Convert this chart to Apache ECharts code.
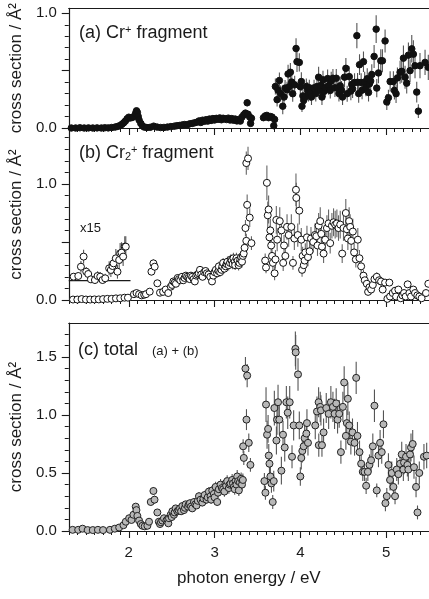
<!DOCTYPE html>
<html><head><meta charset="utf-8">
<script src="https://cdn.jsdelivr.net/npm/echarts/dist/echarts.min.js"></script>
<style>html,body{margin:0;padding:0;background:#fff}#c{width:429px;height:599px}</style>
</head><body><div id="c"></div>
<script>
// ---------- data: [photon energy (eV), cross section (Å²), error] ----------
const crPlus = [
[1.33,0.000,0.005],[1.38,0.000,0.005],[1.43,0.002,0.005],[1.48,0.000,0.005],[1.53,0.001,0.005],[1.58,0.000,0.005],[1.63,0.001,0.005],[1.68,0.000,0.005],[1.72,0.002,0.005],[1.76,0.001,0.005],[1.80,0.004,0.005],[1.84,0.008,0.006],[1.87,0.014,0.006],[1.90,0.022,0.007],[1.92,0.032,0.008],[1.94,0.045,0.008],[1.96,0.060,0.010],[1.98,0.080,0.012],[2.00,0.094,0.012],[2.02,0.088,0.012],[2.04,0.092,0.012],[2.06,0.100,0.012],[2.08,0.128,0.014],[2.09,0.150,0.015],[2.10,0.135,0.014],[2.11,0.100,0.012],[2.12,0.070,0.010],[2.14,0.040,0.008],[2.16,0.018,0.006],[2.18,0.008,0.005],[2.21,0.004,0.005],[2.25,0.006,0.005],[2.29,0.016,0.006],[2.33,0.008,0.005],[2.37,0.004,0.005],[2.41,0.005,0.005],[2.45,0.008,0.005],[2.49,0.012,0.006],[2.53,0.016,0.006],[2.56,0.020,0.007],[2.59,0.022,0.007],[2.62,0.026,0.008],[2.65,0.030,0.008],[2.68,0.028,0.008],[2.71,0.036,0.009],[2.74,0.040,0.010],[2.77,0.046,0.010],[2.80,0.052,0.012],[2.82,0.062,0.014],[2.84,0.048,0.012],[2.86,0.068,0.015],[2.88,0.058,0.014],[2.90,0.072,0.016],[2.92,0.060,0.015],[2.94,0.078,0.016],[2.96,0.066,0.016],[2.98,0.082,0.018],[3.00,0.070,0.016],[3.02,0.084,0.018],[3.04,0.076,0.018],[3.06,0.088,0.020],[3.08,0.072,0.018],[3.10,0.085,0.020],[3.12,0.080,0.020],[3.14,0.074,0.018],[3.16,0.086,0.020],[3.18,0.070,0.018],[3.20,0.082,0.020],[3.22,0.068,0.018],[3.24,0.078,0.020],[3.26,0.062,0.018],[3.28,0.074,0.020],[3.30,0.060,0.018],[3.32,0.095,0.022],[3.34,0.115,0.025],[3.36,0.130,0.025],[3.38,0.220,0.030],[3.39,0.120,0.025],[3.41,0.095,0.022],[3.42,0.040,0.018],[3.43,0.085,0.022],
[3.57,0.090,0.025],[3.59,0.105,0.025],[3.61,0.110,0.025],[3.63,0.090,0.025],[3.65,0.100,0.025],[3.67,0.095,0.025],[3.69,0.020,0.020],[3.70,0.075,0.025],
[3.709,0.362,0.07],[3.729,0.247,0.06],[3.74,0.330,0.07],[3.756,0.414,0.07],[3.77,0.300,0.07],[3.795,0.190,0.07],[3.81,0.270,0.07],[3.822,0.348,0.07],[3.845,0.333,0.07],[3.857,0.471,0.08],[3.87,0.360,0.07],[3.884,0.486,0.08],[3.90,0.400,0.08],[3.911,0.299,0.07],[3.934,0.376,0.08],[3.950,0.693,0.09],[3.961,0.578,0.09],[3.988,0.572,0.08],[4.00,0.360,0.07],[4.012,0.405,0.08],[4.019,0.190,0.05],[4.03,0.280,0.06],[4.039,0.241,0.06],[4.058,0.270,0.06],[4.070,0.362,0.07],[4.085,0.328,0.07],[4.095,0.300,0.07],[4.105,0.351,0.07],[4.116,0.305,0.07],[4.13,0.270,0.07],[4.16,0.350,0.07],[4.18,0.300,0.07],[4.194,0.362,0.08],[4.213,0.443,0.09],[4.233,0.328,0.07],[4.24,0.370,0.08],[4.252,0.270,0.07],[4.264,0.420,0.08],[4.28,0.320,0.07],[4.291,0.351,0.08],[4.318,0.431,0.08],[4.33,0.370,0.08],[4.349,0.328,0.07],[4.36,0.410,0.08],[4.380,0.434,0.08],[4.403,0.351,0.08],[4.419,0.434,0.08],[4.438,0.348,0.08],[4.45,0.300,0.07],[4.465,0.368,0.08],[4.48,0.330,0.08],[4.492,0.270,0.07],[4.515,0.443,0.09],[4.531,0.520,0.09],[4.546,0.299,0.07],[4.570,0.448,0.09],[4.589,0.322,0.08],[4.60,0.380,0.08],[4.609,0.342,0.08],[4.632,0.397,0.08],[4.659,0.805,0.11],[4.667,0.399,0.08],[4.68,0.300,0.08],[4.690,0.552,0.09],[4.709,0.397,0.08],[4.72,0.330,0.08],[4.736,0.578,0.09],[4.75,0.400,0.09],[4.764,0.356,0.08],[4.78,0.430,0.09],[4.795,0.310,0.08],[4.806,0.385,0.08],[4.82,0.410,0.09],[4.833,0.466,0.09],[4.860,0.624,0.10],[4.884,0.862,0.12],[4.891,0.348,0.08],[4.911,0.480,0.09],[4.938,0.586,0.10],[4.957,0.586,0.10],[4.988,0.759,0.10],[5.008,0.227,0.07],[5.027,0.264,0.07],[5.047,0.405,0.09],[5.085,0.405,0.09],[5.097,0.328,0.08],[5.116,0.299,0.08],[5.132,0.437,0.09],[5.163,0.486,0.10],[5.182,0.494,0.10],[5.202,0.609,0.11],[5.221,0.443,0.10],[5.240,0.391,0.09],[5.260,0.635,0.11],[5.279,0.500,0.10],[5.299,0.690,0.12],[5.318,0.644,0.12],[5.337,0.543,0.11],[5.357,0.313,0.09],[5.376,0.147,0.06],[5.395,0.543,0.11],[5.454,0.572,0.11],[5.492,0.529,0.11]
];
const cr2Plus = [
[1.35,0.004,0.004],[1.40,0.004,0.004],[1.45,0.008,0.004],[1.50,0.004,0.004],[1.55,0.004,0.004],[1.60,0.005,0.004],[1.65,0.005,0.004],[1.70,0.008,0.005],[1.75,0.010,0.005],[1.80,0.010,0.005],[1.85,0.014,0.005],[1.90,0.015,0.006],[1.95,0.020,0.006],[1.99,0.020,0.006],
[2.06,0.050,0.010],[2.09,0.060,0.010],[2.12,0.050,0.010],[2.15,0.040,0.010],[2.18,0.045,0.010],[2.20,0.050,0.010],[2.244,0.072,0.012],[2.264,0.244,0.030],[2.287,0.316,0.035],[2.302,0.287,0.035],[2.333,0.144,0.020],[2.364,0.063,0.012],[2.40,0.070,0.012],[2.43,0.090,0.015],[2.46,0.060,0.012],[2.49,0.115,0.018],[2.505,0.130,0.018],[2.52,0.160,0.020],[2.535,0.150,0.020],[2.55,0.140,0.020],[2.57,0.190,0.025],[2.585,0.180,0.025],[2.60,0.170,0.025],[2.62,0.200,0.025],[2.635,0.170,0.025],[2.65,0.190,0.025],[2.665,0.210,0.025],[2.68,0.200,0.028],[2.695,0.190,0.028],[2.71,0.180,0.025],[2.725,0.210,0.028],[2.74,0.200,0.028],[2.755,0.180,0.025],[2.77,0.160,0.025],[2.785,0.210,0.030],[2.80,0.220,0.030],[2.815,0.230,0.030],[2.83,0.260,0.032],[2.845,0.220,0.030],[2.86,0.200,0.030],[2.88,0.240,0.032],[2.895,0.250,0.032],[2.91,0.230,0.032],[2.93,0.220,0.030],[2.95,0.200,0.030],[2.97,0.160,0.028],[2.985,0.210,0.032],[3.00,0.240,0.035],[3.015,0.260,0.035],[3.03,0.230,0.035],[3.045,0.250,0.038],[3.05,0.290,0.040],[3.065,0.240,0.038],[3.08,0.260,0.038],[3.09,0.290,0.040],[3.10,0.320,0.042],[3.115,0.270,0.040],[3.13,0.290,0.040],[3.14,0.310,0.042],[3.15,0.330,0.045],[3.165,0.300,0.045],[3.18,0.320,0.045],[3.19,0.350,0.045],[3.20,0.340,0.045],[3.21,0.310,0.045],[3.22,0.360,0.048],[3.235,0.330,0.048],[3.24,0.300,0.042],[3.255,0.360,0.048],[3.27,0.340,0.048],[3.28,0.300,0.045],[3.29,0.320,0.045],[3.30,0.350,0.050],[3.31,0.370,0.050],[3.32,0.330,0.050],[3.33,0.380,0.050],[3.34,0.400,0.055],[3.35,0.450,0.060],[3.36,0.620,0.070],[3.37,0.510,0.060],[3.38,0.820,0.090],[3.37,1.180,0.100],[3.39,1.220,0.100],[3.41,0.710,0.080],[3.43,0.490,0.060],
[3.59,0.34,0.06],[3.60,0.28,0.05],[3.61,1.01,0.15],[3.62,0.73,0.12],[3.63,0.78,0.12],[3.64,0.54,0.10],[3.65,0.60,0.10],[3.66,0.47,0.09],[3.67,0.38,0.08],[3.68,0.32,0.07],[3.70,0.23,0.06],[3.71,0.35,0.08],[3.72,0.69,0.12],[3.73,0.52,0.10],[3.76,0.68,0.12],[3.78,0.60,0.11],[3.80,0.32,0.07],[3.81,0.47,0.09],[3.825,0.38,0.08],[3.845,0.63,0.11],[3.864,0.56,0.10],[3.895,0.63,0.11],[3.914,0.32,0.06],[3.93,0.53,0.10],[3.949,0.95,0.14],[3.953,0.88,0.13],[3.97,0.56,0.10],[3.988,0.77,0.12],[4.011,0.52,0.10],[4.02,0.26,0.06],[4.027,0.38,0.08],[4.04,0.30,0.07],[4.05,0.34,0.07],[4.058,0.41,0.08],[4.077,0.54,0.10],[4.089,0.37,0.08],[4.108,0.42,0.08],[4.124,0.53,0.10],[4.15,0.50,0.09],[4.17,0.56,0.10],[4.186,0.55,0.10],[4.20,0.47,0.09],[4.213,0.64,0.11],[4.232,0.68,0.12],[4.244,0.57,0.10],[4.252,0.46,0.09],[4.271,0.40,0.08],[4.29,0.52,0.10],[4.31,0.62,0.11],[4.329,0.66,0.12],[4.348,0.49,0.09],[4.368,0.64,0.11],[4.387,0.67,0.12],[4.406,0.65,0.12],[4.426,0.66,0.12],[4.445,0.62,0.11],[4.465,0.65,0.12],[4.488,0.40,0.08],[4.503,0.62,0.11],[4.53,0.75,0.12],[4.542,0.61,0.11],[4.554,0.53,0.10],[4.569,0.68,0.12],[4.581,0.63,0.11],[4.593,0.51,0.10],[4.612,0.59,0.11],[4.627,0.41,0.08],[4.647,0.35,0.07],[4.67,0.52,0.10],[4.689,0.36,0.07],[4.709,0.29,0.06],[4.736,0.21,0.05],[4.751,0.17,0.04],[4.775,0.14,0.04],[4.79,0.07,0.03],[4.806,0.11,0.03],[4.825,0.09,0.03],[4.845,0.13,0.03],[4.864,0.18,0.04],[4.891,0.20,0.04],[4.918,0.17,0.04],[4.941,0.16,0.04],[4.96,0.09,0.03],[4.988,0.15,0.03],[5.015,0.01,0.02],[5.038,0.15,0.03],[5.046,0.03,0.02],[5.077,0.06,0.02],[5.104,0.08,0.02],[5.116,0.03,0.02],[5.143,0.09,0.02],[5.17,0.015,0.02],[5.19,0.04,0.02],[5.209,0.06,0.02],[5.228,0.03,0.02],[5.251,0.135,0.03],[5.271,0.06,0.02],[5.29,0.03,0.02],[5.317,0.09,0.02],[5.337,0.06,0.02],[5.364,0.04,0.02],[5.387,0.03,0.02],[5.414,0.015,0.02],[5.465,0.06,0.02],[5.492,0.14,0.03]
];
// x15 magnified low-energy Cr2+ data (plotted on offset baseline)
const cr2PlusX15 = [
[1.357,0.201,0.03],[1.411,0.207,0.03],[1.442,0.287,0.05],[1.473,0.374,0.06],[1.504,0.244,0.04],[1.527,0.224,0.04],[1.558,0.178,0.03],[1.605,0.172,0.03],[1.636,0.207,0.04],[1.667,0.201,0.04],[1.694,0.172,0.03],[1.725,0.187,0.04],[1.771,0.273,0.06],[1.791,0.259,0.06],[1.810,0.293,0.07],[1.822,0.316,0.07],[1.849,0.359,0.08],[1.868,0.244,0.06],[1.888,0.345,0.08],[1.899,0.402,0.09],[1.915,0.408,0.09],[1.934,0.374,0.08],[1.953,0.460,0.09],[1.965,0.460,0.09]
];
const x15Baseline = [[1.3,0.167],[2.02,0.167]];
const total = [
[1.345,0.010,0.006],[1.41,0.010,0.006],[1.461,0.020,0.006],[1.52,0.008,0.006],[1.58,0.008,0.006],[1.64,0.010,0.006],[1.70,0.008,0.006],[1.78,0.010,0.006],[1.837,0.020,0.007],[1.888,0.030,0.008],[1.938,0.050,0.010],[1.965,0.080,0.012],[2.004,0.110,0.014],[2.031,0.095,0.014],[2.054,0.140,0.016],[2.081,0.210,0.020],[2.089,0.180,0.018],[2.100,0.130,0.016],[2.120,0.090,0.014],[2.140,0.060,0.012],[2.159,0.045,0.010],[2.186,0.040,0.010],[2.217,0.045,0.010],[2.236,0.080,0.012],[2.256,0.250,0.030],[2.287,0.345,0.035],[2.300,0.270,0.035],[2.333,0.160,0.020],[2.350,0.080,0.012],
[2.364,0.060,0.012],[2.375,0.075,0.012],[2.391,0.090,0.015],[2.410,0.110,0.016],[2.438,0.090,0.015],[2.45,0.100,0.015],[2.461,0.066,0.014],[2.469,0.110,0.016],[2.488,0.140,0.018],[2.50,0.120,0.018],[2.508,0.170,0.020],[2.527,0.140,0.020],[2.535,0.160,0.020],[2.546,0.195,0.022],[2.566,0.170,0.022],[2.58,0.180,0.022],[2.597,0.195,0.025],[2.61,0.170,0.022],[2.624,0.215,0.025],[2.643,0.180,0.025],[2.655,0.200,0.025],[2.663,0.230,0.028],[2.690,0.210,0.028],[2.70,0.230,0.028],[2.713,0.240,0.030],[2.725,0.210,0.028],[2.740,0.195,0.028],[2.760,0.250,0.030],[2.775,0.230,0.030],[2.790,0.220,0.030],[2.805,0.260,0.032],[2.818,0.300,0.035],[2.837,0.270,0.035],[2.857,0.245,0.032],[2.87,0.280,0.035],[2.884,0.310,0.038],[2.907,0.270,0.035],[2.92,0.290,0.035],[2.934,0.340,0.040],[2.953,0.300,0.038],[2.96,0.270,0.035],[2.973,0.350,0.040],[2.992,0.320,0.040],[3.00,0.290,0.040],[3.012,0.380,0.045],[3.031,0.250,0.035],[3.04,0.330,0.042],[3.050,0.360,0.045],[3.070,0.400,0.048],[3.085,0.370,0.045],[3.100,0.360,0.045],[3.115,0.340,0.045],[3.128,0.410,0.050],[3.135,0.390,0.048],[3.147,0.430,0.050],[3.167,0.370,0.048],[3.175,0.400,0.050],[3.186,0.410,0.050],[3.205,0.440,0.052],[3.215,0.410,0.050],[3.225,0.380,0.050],[3.235,0.360,0.048],[3.244,0.430,0.052],[3.255,0.400,0.050],[3.264,0.470,0.055],[3.275,0.430,0.052],[3.283,0.350,0.048],[3.295,0.420,0.052],[3.310,0.450,0.055],[3.32,0.400,0.052],[3.330,0.440,0.055],
[3.333,0.73,0.06],[3.341,0.63,0.06],[3.36,1.40,0.10],[3.372,0.96,0.09],[3.38,1.34,0.10],[3.399,0.76,0.08],[3.418,0.57,0.06],[3.581,0.43,0.07],[3.593,0.33,0.06],[3.60,1.09,0.15],[3.612,0.83,0.12],[3.624,0.88,0.12],[3.632,0.65,0.10],[3.64,0.58,0.10],[3.651,0.47,0.09],[3.663,0.41,0.08],[3.678,0.25,0.06],[3.69,0.43,0.09],[3.697,1.06,0.15],[3.721,0.78,0.12],[3.728,0.96,0.13],[3.74,1.11,0.15],[3.755,0.96,0.13],[3.779,0.52,0.12],[3.798,0.83,0.12],[3.818,0.72,0.12],[3.837,1.11,0.14],[3.853,1.02,0.14],[3.876,1.11,0.14],[3.903,0.64,0.10],[3.922,0.91,0.13],[3.942,1.57,0.15],[3.946,1.54,0.15],[3.973,1.35,0.14],[3.988,0.91,0.12],[4.0,0.47,0.08],[4.011,0.63,0.10],[4.023,0.69,0.10],[4.039,0.73,0.11],[4.05,0.80,0.12],[4.07,0.84,0.12],[4.077,0.93,0.12],[4.089,0.76,0.11],[4.174,0.91,0.12],[4.194,1.03,0.13],[4.213,1.11,0.13],[4.215,0.74,0.10],[4.232,1.07,0.13],[4.24,1.04,0.13],[4.252,0.74,0.10],[4.271,0.85,0.12],[4.302,1.06,0.13],[4.33,1.01,0.13],[4.356,1.11,0.14],[4.38,1.07,0.13],[4.399,1.01,0.13],[4.418,1.10,0.13],[4.434,0.96,0.12],[4.453,1.01,0.12],[4.473,0.68,0.10],[4.496,1.07,0.13],[4.511,1.28,0.14],[4.531,0.82,0.12],[4.542,0.93,0.12],[4.554,1.14,0.14],[4.57,0.91,0.12],[4.589,0.77,0.11],[4.608,0.85,0.12],[4.632,0.76,0.11],[4.651,1.32,0.14],[4.666,0.82,0.12],[4.69,0.68,0.10],[4.709,0.58,0.09],[4.728,0.51,0.08],[4.748,0.51,0.08],[4.767,0.39,0.07],[4.787,0.51,0.08],[4.806,0.57,0.09],[4.825,0.61,0.10],[4.845,0.73,0.11],[4.864,1.08,0.14],[4.891,0.35,0.06],[4.911,0.65,0.10],[4.93,0.76,0.11],[4.949,0.68,0.10],[4.969,0.92,0.12],[4.992,0.24,0.07],[5.008,0.30,0.07],[5.027,0.57,0.10],[5.046,0.44,0.09],[5.066,0.50,0.10],[5.085,0.38,0.08],[5.104,0.30,0.07],[5.124,0.53,0.10],[5.143,0.49,0.09],[5.163,0.58,0.10],[5.182,0.66,0.11],[5.201,0.53,0.10],[5.209,0.59,0.10],[5.232,0.64,0.11],[5.248,0.57,0.10],[5.259,0.53,0.10],[5.279,0.66,0.11],[5.29,0.72,0.12],[5.31,0.75,0.12],[5.325,0.55,0.10],[5.349,0.38,0.09],[5.366,0.16,0.06],[5.387,0.50,0.10],[5.441,0.64,0.11],[5.473,0.65,0.11]
];

// ---------- axis ticks / labels ----------
const xRange = [1.3, 5.5];
const xMajorTicks = [2, 3, 4, 5];
const xTickLabels = [2, 3, 4, 5];
const yRangeA = [0, 1.043], yRangeB = [0, 1.474], yRangeC = [0, 1.793];
const yMajorA = [0, 0.5, 1.0], yLabelsA = [0, 1.0];
const yMajorB = [0, 0.5, 1.0], yLabelsB = [0, 1.0];
const yMajorC = [0, 0.5, 1.0, 1.5], yLabelsC = [0, 0.5, 1.0, 1.5];
const xTitle = 'photon energy / eV';
const yTitle = 'cross section / Å²';

function steps(a, b, s) { const r = []; for (let v = a; v <= b + 1e-9; v += s) r.push(Math.round(v * 10) / 10); return r; }
const xMinorTicks = steps(1.3, 5.5, 0.1);

const FONT = '"Liberation Sans", Arial, Helvetica, sans-serif';
const INK = '#1a1a1a';
const grids = [
  { left: 68, top: 7, width: 361, height: 121 },
  { left: 68, top: 129, width: 361, height: 171 },
  { left: 68, top: 323, width: 361, height: 208 }
];

const xAxes = [], yAxes = [];
function addX(g, labels, top) {
  const base = { gridIndex: g, type: 'value', min: xRange[0], max: xRange[1], splitLine: { show: false } };
  const major = xAxes.length;
  xAxes.push(Object.assign({}, base, {
    position: 'bottom',
    axisLine: { show: true, onZero: false, lineStyle: { color: INK, width: 1.2 } },
    axisTick: { show: true, length: 7, customValues: xMajorTicks, lineStyle: { color: INK, width: 1.1 } },
    axisLabel: { show: labels, customValues: xTickLabels, margin: 14, fontSize: 15, color: INK, fontFamily: FONT },
    name: labels ? xTitle : '', nameLocation: 'middle', nameGap: 39,
    nameTextStyle: { fontSize: 17, color: INK, fontFamily: FONT }
  }));
  xAxes.push(Object.assign({}, base, {
    position: 'bottom',
    axisLine: { show: false, onZero: false },
    axisTick: { show: true, length: 4, customValues: xMinorTicks, lineStyle: { color: INK, width: 1 } },
    axisLabel: { show: false }
  }));
  if (top) xAxes.push(Object.assign({}, base, {
    position: 'top',
    axisLine: { show: true, onZero: false, lineStyle: { color: INK, width: 1.2 } },
    axisTick: { show: false }, axisLabel: { show: false }
  }));
  return major;
}
function addY(g, range, majors, labels) {
  const base = { gridIndex: g, type: 'value', position: 'left', min: range[0], max: range[1], splitLine: { show: false } };
  const major = yAxes.length;
  yAxes.push(Object.assign({}, base, {
    axisLine: { show: true, onZero: false, lineStyle: { color: INK, width: 1.2 } },
    axisTick: { show: true, length: 7, customValues: majors, lineStyle: { color: INK, width: 1.1 } },
    axisLabel: { show: true, customValues: labels, margin: 12, fontSize: 15, color: INK, fontFamily: FONT,
                 formatter: v => Number(v).toFixed(1) },
    name: yTitle, nameLocation: 'middle', nameGap: 32,
    nameTextStyle: { fontSize: 17, color: INK, fontFamily: FONT }
  }));
  yAxes.push(Object.assign({}, base, {
    axisLine: { show: false, onZero: false },
    axisTick: { show: true, length: 4, customValues: steps(range[0], range[1], 0.1), lineStyle: { color: INK, width: 1 } },
    axisLabel: { show: false }
  }));
  return major;
}
const xa = addX(0, false, true), ya = addY(0, yRangeA, yMajorA, yLabelsA);
const xb = addX(1, false, false), yb = addY(1, yRangeB, yMajorB, yLabelsB);
const xc = addX(2, true, true), yc = addY(2, yRangeC, yMajorC, yLabelsC);

function errSeries(data, xi, yi, color) {
  return {
    type: 'custom', xAxisIndex: xi, yAxisIndex: yi, data: data, clip: true, z: 2,
    encode: { x: 0, y: 1 },
    renderItem: function (params, api) {
      const x = api.value(0), y = api.value(1), e = api.value(2);
      const p1 = api.coord([x, y - e]), p2 = api.coord([x, y + e]);
      return { type: 'line', shape: { x1: p1[0], y1: p1[1], x2: p2[0], y2: p2[1] },
               style: { stroke: color, lineWidth: 1.1 } };
    }
  };
}
function ptSeries(data, xi, yi, fill, stroke, size) {
  return {
    type: 'scatter', xAxisIndex: xi, yAxisIndex: yi, data: data, symbol: 'circle', symbolSize: size, z: 3,
    itemStyle: { color: fill, borderColor: stroke, borderWidth: 1, opacity: 1 }
  };
}

const series = [
  errSeries(crPlus, xa, ya, '#555'),
  ptSeries(crPlus, xa, ya, '#111', '#111', 6.5),
  errSeries(cr2Plus, xb, yb, '#666'),
  ptSeries(cr2Plus, xb, yb, '#fff', '#111', 7),
  { type: 'line', xAxisIndex: xb, yAxisIndex: yb, data: x15Baseline, symbol: 'none', z: 2,
    lineStyle: { color: INK, width: 1.2 } },
  errSeries(cr2PlusX15, xb, yb, '#555'),
  ptSeries(cr2PlusX15, xb, yb, '#fff', '#111', 7),
  errSeries(total, xc, yc, '#555'),
  ptSeries(total, xc, yc, '#b8b8b8', '#222', 7)
];

const labelStyle = { fontSize: 18, fill: INK, fontFamily: FONT,
  rich: { sup: { fontSize: 11, verticalAlign: 'top', fontFamily: FONT }, sub: { fontSize: 11, verticalAlign: 'bottom', fontFamily: FONT } } };
const graphic = [
  { type: 'text', left: 79, top: 24, style: Object.assign({ text: '(a) Cr{sup|+} fragment' }, labelStyle) },
  { type: 'text', left: 79, top: 144, style: Object.assign({ text: '(b) Cr{sub|2}{sup|+} fragment' }, labelStyle) },
  { type: 'text', left: 80, top: 222, style: { text: 'x15', fontSize: 13, fill: INK, fontFamily: FONT } },
  { type: 'text', left: 78, top: 341, style: { text: '(c) total', fontSize: 18, fill: INK, fontFamily: FONT } },
  { type: 'text', left: 152, top: 345, style: { text: '(a) + (b)', fontSize: 13, fill: INK, fontFamily: FONT } }
];

const chart = echarts.init(document.getElementById('c'), null, { renderer: 'canvas' });
chart.setOption({
  animation: false,
  backgroundColor: '#fff',
  grid: grids,
  xAxis: xAxes,
  yAxis: yAxes,
  series: series,
  graphic: graphic
});
</script>
</body></html>
